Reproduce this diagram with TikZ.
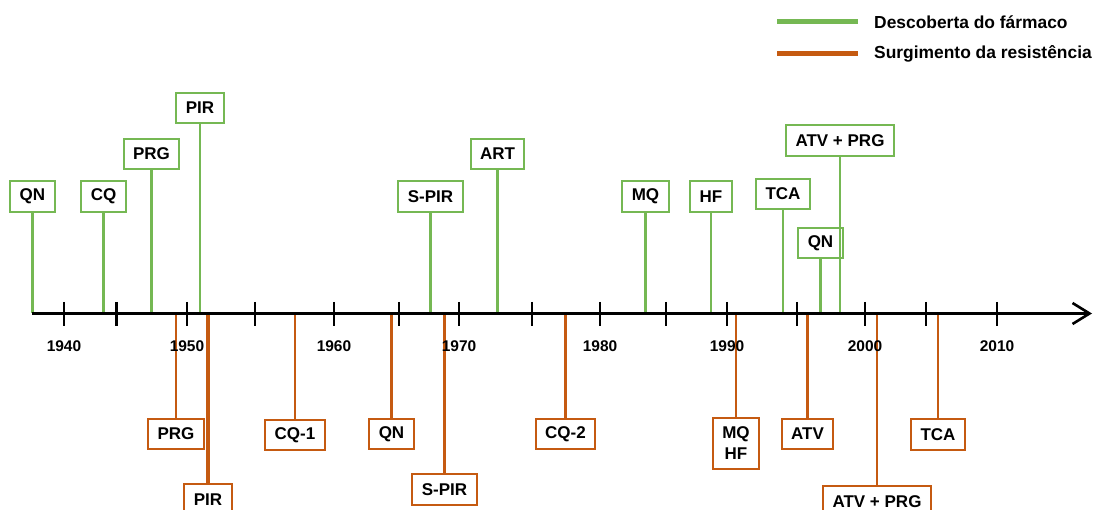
\documentclass[tikz,border=0pt]{standalone}
\usepackage{fontspec}
\setmainfont{Liberation Sans}
\usetikzlibrary{arrows.meta}
\definecolor{DrugGreen}{RGB}{117,184,83}
\definecolor{ResOrange}{RGB}{197,90,17}

\begin{document}
\begin{tikzpicture}[x=1pt,y=-1pt,
  box/.style={draw, line width=2pt, fill=white, text=black, inner xsep=9.5pt,
    minimum height=30.5pt, font=\fontsize{17}{21}\selectfont\bfseries},
  gbox/.style={box, draw=DrugGreen},
  obox/.style={box, draw=ResOrange},
  gstem/.style={line width=2.8pt, DrugGreen},
  ostem/.style={line width=2.8pt, ResOrange},
  yrlabel/.style={font=\fontsize{15.5}{17}\selectfont\bfseries},
  legtext/.style={anchor=base west, inner sep=0pt, font=\fontsize{17.4}{19}\selectfont\bfseries}]
\useasboundingbox (0,0) rectangle (1095,510);
%
\coordinate (ax0) at (32,313.5);
\coordinate (ax1) at (1092,313.5);
%
% descoberta do farmaco
\node[gbox] (gQN) at (32.5,196.5) {QN};
\node[gbox] (gCQ) at (103.5,196.5) {CQ};
\node[gbox] (gPRG) at (151.5,154) {PRG};
\node[gbox] (gPIR) at (200,108) {PIR};
\node[gbox] (gSPIR) at (430.5,196.5) {S-PIR};
\node[gbox] (gART) at (497.5,154) {ART};
\node[gbox] (gMQ) at (645.5,196.5) {MQ};
\node[gbox] (gHF) at (711,196.5) {HF};
\node[gbox] (gTCA) at (783,194) {TCA};
\node[gbox] (gQNb) at (820.5,243) {QN};
\node[gbox] (gATVPRG) at (840,140.5) {ATV + PRG};
\foreach \n in {gQN,gCQ,gPRG,gPIR,gSPIR,gART,gMQ,gHF,gTCA,gQNb,gATVPRG}
  \draw[gstem] (\n.south) -- (\n.south |- ax0);
%
% surgimento da resistencia
\node[obox] (oPRG) at (176,434) {PRG};
\node[obox] (oPIR) at (208,499.5) {PIR};
\node[obox] (oCQa) at (295,435) {CQ-1};
\node[obox] (oQN) at (391.5,434) {QN};
\node[obox] (oSPIR) at (444.5,489.5) {S-PIR};
\node[obox] (oCQb) at (565.5,434) {CQ-2};
\node[obox, minimum height=51.5pt, align=center] (oMQHF) at (736,443.5) {MQ\\HF};
\node[obox] (oATV) at (807.5,434) {ATV};
\node[obox] (oATVPRG) at (877,501.5) {ATV + PRG};
\node[obox] (oTCA) at (938,434.5) {TCA};
\foreach \n in {oPRG,oCQa,oQN,oSPIR,oCQb,oMQHF,oATV,oATVPRG,oTCA}
  \draw[ostem] (\n.north) -- (\n.north |- ax0);
\draw[ostem, line width=3.6pt] (oPIR.north) -- (oPIR.north |- ax0);
%
% eixo
\draw[line width=2.6pt, -{Straight Barb[length=17pt,width=21pt]}] (ax0) -- (ax1);
\foreach \x in {64,116.5,187,255,334,399,459,532,600,666,727,797,865,926,997}
  \draw[line width=2.6pt] (\x,302) -- (\x,326);
\foreach \x/\yr in {64/1940,187/1950,334/1960,459/1970,600/1980,727/1990,865/2000,997/2010}
  \node[yrlabel] (y\yr) at (\x,346.5) {\yr};
%
% legenda
\node[legtext] (legG) at (874,29) {Descoberta do fármaco};
\node[legtext] (legO) at (874,59) {Surgimento da resistência};
\draw[line width=5pt, DrugGreen] (777,21.5) -- (858,21.5);
\draw[line width=5pt, ResOrange] (777,53.5) -- (858,53.5);
\end{tikzpicture}
\end{document}
